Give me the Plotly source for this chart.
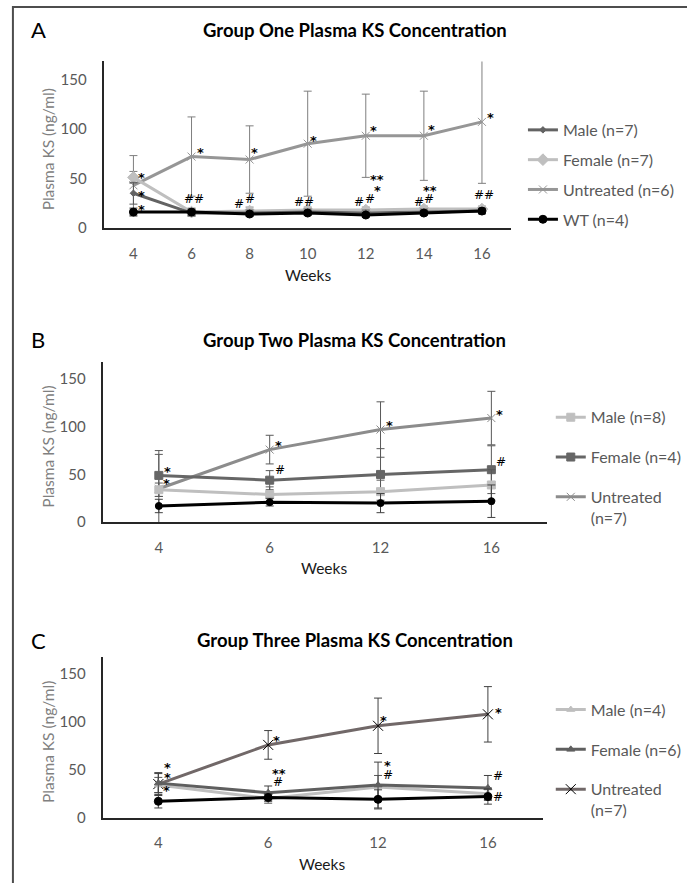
import plotly.graph_objects as go

W, H = 687, 883
FONT = "Lato"
MARK_FONT = "DejaVu Sans"

# ---------------- data ----------------
weeks_a = ["4", "6", "8", "10", "12", "14", "16"]
a_male = [35, 15, 15, 16, 15, 16, 17]
a_male_err = [11, 3, 3, 3, 3, 3, 3]
a_female = [51, 16, 17, 18, 18, 19, 19]
a_female_err = [6, 4, 4, 3, 3, 3, 3]
a_untreated = [43, 72, 69, 85, 93, 93, 107]
a_untreated_err = [30, 40, 34, 53, 42, 45, 62]
a_wt = [16, 16, 14, 15, 13, 15, 17]
a_wt_err = [4, 3, 2, 2, 2, 2, 2]

weeks_bc = ["4", "6", "12", "16"]
b_male = [34, 29, 32, 39]
b_male_err = [7, 8, 12, 16]
b_female = [49, 44, 50, 55]
b_female_err = [22, 10, 27, 25]
b_untreated = [35, 76, 97, 109]
b_untreated_err = [40, 15, 29, 28]
b_wt = [17, 21, 20, 22]
b_wt_err = [7, 4, 10, 17]

c_male = [34, 20, 32, 25]
c_male_err = [8, 5, 12, 6]
c_female = [36, 26, 34, 31]
c_female_err = [10, 7, 24, 13]
c_untreated = [35, 76, 96, 108]
c_untreated_err = [12, 15, 29, 29]
c_wt = [17, 21, 19, 22]
c_wt_err = [7, 4, 10, 8]

# significance labels: (category index + offset, value, text)
a_marks = [(0.14, 55, "*"), (0.14, 37, "*"), (0.14, 23, "*"),
           (1.15, 80, "*"), (2.08, 80, "*"), (3.10, 92, "*"),
           (4.13, 102, "*"), (4.20, 53, "**"), (4.20, 42, "*"),
           (5.13, 103, "*"), (5.11, 42, "**"), (6.14, 115, "*"),
           (1.05, 29, "##"), (1.82, 24, "#"), (2.00, 29, "#"),
           (2.93, 26, "##"), (3.88, 26, "#"), (4.08, 29, "#"),
           (4.92, 26, "#"), (5.09, 29, "#"), (6.04, 33, "##")]
b_marks = [(0.08, 57, "*"), (0.07, 45, "*"), (1.08, 84, "*"),
           (1.09, 55, "#"), (2.08, 105, "*"), (3.07, 117, "*"),
           (3.09, 63, "#")]
c_marks = [(0.08, 57, "*"), (0.08, 46, "*"), (0.07, 32, "*"),
           (1.08, 85, "*"), (1.10, 50, "**"), (1.09, 37, "#"),
           (2.05, 106, "*"), (2.09, 59, "*"), (2.09, 45, "#"),
           (3.10, 114, "*"), (3.09, 43, "#"), (3.09, 21, "#")]

fig = go.Figure()


def px_x(p):
    return p / W


def px_y(p):
    return 1 - p / H


def add(xa, ya, leg, cats, y, err, name, color, sym, msize, rank, mcolor=None,
        ecolor="#595959", show=True, lw=3):
    fig.add_trace(go.Scatter(
        x=list(range(len(cats))), y=y, name=name, mode="lines+markers",
        xaxis=xa, yaxis=ya, legend=leg, showlegend=show,
        legendgroup=leg + name, legendrank=rank,
        line=dict(color=color, width=lw),
        marker=dict(symbol=sym, size=msize, color=mcolor or color,
                    line=dict(color=mcolor or color, width=1)),
        error_y=dict(type="data", array=err, visible=True, color=ecolor,
                     thickness=1, width=4),
    ))


LIGHT, MID = "#bfbfbf", "#8c8c8c"

# Panel A
add("x", "y", "legend", weeks_a, a_untreated, a_untreated_err, "Untreated (n=6)",
    "#969696", "x-thin", 8, 3, mcolor="#969696", ecolor="#7f7f7f")
add("x", "y", "legend", weeks_a, a_female, a_female_err, "Female (n=7)",
    LIGHT, "diamond", 9, 2, ecolor="#7f7f7f")
add("x", "y", "legend", weeks_a, a_male, a_male_err, "Male (n=7)",
    "#636363", "diamond", 5, 1, ecolor="#595959")
add("x", "y", "legend", weeks_a, a_wt, a_wt_err, "WT (n=4)",
    "#000000", "circle", 8, 4, ecolor="#404040")

# Panel B
add("x2", "y2", "legend2", weeks_bc, b_untreated, b_untreated_err, "Untreated<br>(n=7)",
    MID, "x-thin", 8, 3, ecolor="#595959")
add("x2", "y2", "legend2", weeks_bc, b_female, b_female_err, "Female (n=4)",
    "#666666", "square", 8, 2, ecolor="#595959")
add("x2", "y2", "legend2", weeks_bc, b_male, b_male_err, "Male (n=8)",
    LIGHT, "square", 8, 1, ecolor="#595959")
add("x2", "y2", "legend2", weeks_bc, b_wt, b_wt_err, "WT",
    "#000000", "circle", 7, 4, ecolor="#404040", show=False)

# Panel C
add("x3", "y3", "legend3", weeks_bc, c_untreated, c_untreated_err, "Untreated<br>(n=7)",
    "#716868", "x-thin", 10, 3, mcolor="#000000", ecolor="#404040")
add("x3", "y3", "legend3", weeks_bc, c_male, c_male_err, "Male (n=4)",
    LIGHT, "triangle-up", 7, 1, ecolor="#595959")
add("x3", "y3", "legend3", weeks_bc, c_female, c_female_err, "Female (n=6)",
    "#5f5f5f", "triangle-up", 7, 2, ecolor="#404040")
add("x3", "y3", "legend3", weeks_bc, c_wt, c_wt_err, "WT",
    "#000000", "circle", 8, 4, ecolor="#404040", show=False)

panels = [
    # (xaxis, yaxis, cats, x0, x1, ytop, ybot)
    ("xaxis", "yaxis", weeks_a, 105, 514, 62, 230),
    ("xaxis2", "yaxis2", weeks_bc, 104, 550, 365, 527),
    ("xaxis3", "yaxis3", weeks_bc, 104, 546, 663, 825),
]
axis_font = dict(family=FONT, size=15, color="#595959")
for i, (xk, yk, cats, x0, x1, yt, yb) in enumerate(panels):
    anchor_y = "y" if i == 0 else f"y{i+1}"
    anchor_x = "x" if i == 0 else f"x{i+1}"
    fig.layout[xk] = dict(
        domain=[px_x(x0), px_x(x1)], anchor=anchor_y,
        tickmode="array", tickvals=list(range(len(cats))), ticktext=cats,
        range=[-0.5, len(cats) - 0.5], showgrid=False, zeroline=False,
        showline=True, linecolor="#262626", linewidth=1.5, ticks="",
        tickfont=axis_font, ticklabelstandoff=11, fixedrange=True)
    fig.layout[yk] = dict(
        domain=[px_y(yb), px_y(yt)], anchor=anchor_x,
        range=[0, 168], tickvals=[0, 50, 100, 150], showgrid=False,
        zeroline=False, showline=True, linecolor="#262626", linewidth=1.5,
        ticks="", tickfont=axis_font, ticklabelstandoff=13, fixedrange=True)

annotations = []
titles = [("A", "Group One Plasma KS Concentration", 30, 278, 310),
          ("B", "Group Two Plasma KS Concentration", 343, 573, 326),
          ("C", "Group Three Plasma KS Concentration", 646, 872, 324)]
for i, (letter, title, ty, wy, wx) in enumerate(titles):
    annotations.append(dict(text=letter, x=px_x(29), y=px_y(ty), xref="paper", yref="paper",
                            xanchor="left", yanchor="middle", showarrow=False,
                            font=dict(family=FONT, size=22, color="#000000")))
    annotations.append(dict(text=f"<b>{title}</b>", x=px_x(357), y=px_y(ty), xref="paper",
                            yref="paper", xanchor="center", yanchor="middle", showarrow=False,
                            font=dict(family=FONT, size=18.5, color="#000000")))
    annotations.append(dict(text="Weeks", x=px_x(wx), y=px_y(wy), xref="paper", yref="paper",
                            xanchor="center", yanchor="middle", showarrow=False,
                            font=dict(family=FONT, size=15.5, color="#1a1a1a")))
    _, _, _, x0, x1, yt, yb = panels[i]
    annotations.append(dict(text="Plasma KS (ng/ml)", x=px_x(48), y=px_y((yt + yb) / 2 + 5),
                            xref="paper", yref="paper", textangle=-90, xanchor="center",
                            yanchor="middle", showarrow=False,
                            font=dict(family=FONT, size=15.5, color="#808080")))

for marks, xr, yr in [(a_marks, "x", "y"), (b_marks, "x2", "y2"), (c_marks, "x3", "y3")]:
    for mx, my, txt in marks:
        is_star = "*" in txt
        annotations.append(dict(text=f"<b>{txt}</b>" if is_star else txt,
                                x=mx, y=my, xref=xr, yref=yr, showarrow=False,
                                xanchor="center", yanchor="middle",
                                yshift=-4 if is_star else 0,
                                font=dict(family=MARK_FONT, size=13 if is_star else 12,
                                          color="#000000")))

leg_common = dict(xanchor="left", yanchor="top", bgcolor="rgba(0,0,0,0)",
                  font=dict(family=FONT, size=16, color="#595959"),
                  traceorder="grouped", itemwidth=30, itemclick=False)

fig.update_layout(
    width=W, height=H, margin=dict(l=0, r=0, t=0, b=0),
    paper_bgcolor="white", plot_bgcolor="white",
    annotations=annotations,
    legend=dict(x=px_x(526), y=px_y(114), tracegroupgap=6, **leg_common),
    legend2=dict(x=px_x(554), y=px_y(404), tracegroupgap=16, valign="top", **leg_common),
    legend3=dict(x=px_x(554), y=px_y(699), tracegroupgap=16, valign="top", **leg_common),
    shapes=[dict(type="rect", xref="paper", yref="paper", x0=px_x(13), x1=1.05,
                 y0=-0.05, y1=px_y(7), line=dict(color="#4d4d4d", width=2))],
    showlegend=True,
)

fig.write_html(
    "out.html",
    config={"displayModeBar": False},
    post_script="document.body.style.margin='0px';document.body.style.overflow='hidden';",
)
